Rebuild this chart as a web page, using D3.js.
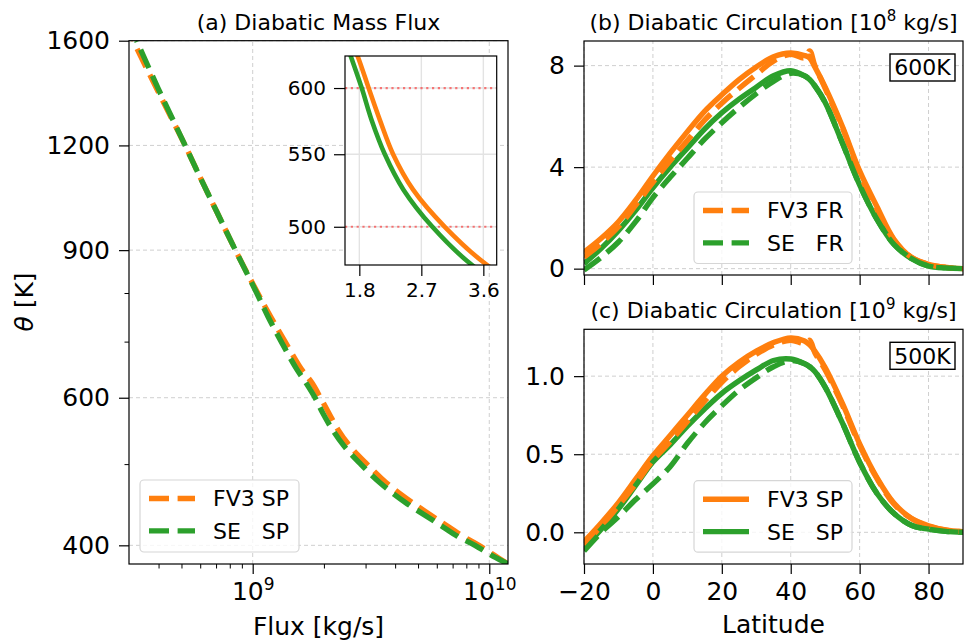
<!DOCTYPE html>
<html>
<head>
<meta charset="utf-8">
<script src="https://cdn.jsdelivr.net/npm/d3@7"></script>
<style>
body { margin: 0; background: #fff; }
text { font-family: "DejaVu Sans", sans-serif; fill: #000; }
</style>
</head>
<body>
<div id="chart"></div>
<script>
// figure size and colours
var svgWidth = 965;
var svgHeight = 643;
var orange = "#ff7f0e";
var green = "#2ca02c";

// (a) mass flux profiles, flux in 1e9 kg/s
var thetaLevels = [380, 390, 400, 410, 425, 450, 475, 500, 525, 550, 575, 600, 625, 650, 700, 750, 800, 900, 1000, 1100, 1200, 1400, 1600];
var fluxFV3 = [12.0, 10.4, 9.04, 7.75, 6.38, 4.72, 3.67, 3.04, 2.58, 2.29, 2.10, 1.935, 1.78, 1.60, 1.37, 1.19, 1.05, 0.845, 0.705, 0.599, 0.518, 0.394, 0.312];
var fluxSE = [12.0, 10.1, 8.7, 7.35, 6.05, 4.42, 3.45, 2.86, 2.44, 2.17, 1.98, 1.835, 1.68, 1.53, 1.32, 1.16, 1.04, 0.845, 0.705, 0.599, 0.518, 0.40, 0.323];

// (b),(c) diabatic circulation vs latitude
var lat = [-20, -15, -10, -5, 0, 5, 10, 15, 20, 25, 30, 35, 40, 44, 45.5, 47, 50, 55, 60, 65, 70, 75, 80, 85, 90];
// 600K, 1e8 kg/s
var c600FV3SP = [0.65, 1.2, 1.85, 2.7, 3.65, 4.55, 5.4, 6.2, 6.85, 7.45, 7.95, 8.35, 8.5, 8.4, 8.3, 7.95, 7.15, 5.6, 3.85, 2.45, 1.15, 0.45, 0.17, 0.05, 0.0];
var c600FV3FR = [0.45, 1.0, 1.65, 2.5, 3.4, 4.25, 5.05, 5.85, 6.52, 7.1, 7.65, 8.18, 8.45, 8.3, 8.58, 8.0, 7.1, 5.55, 3.75, 2.35, 1.12, 0.45, 0.17, 0.05, 0.0];
var c600SESP = [0.2, 0.8, 1.5, 2.3, 3.19, 4.0, 4.75, 5.5, 6.14, 6.68, 7.15, 7.6, 7.8, 7.6, 7.45, 7.2, 6.55, 4.95, 3.3, 1.95, 0.95, 0.4, 0.1, 0.03, 0.0];
var c600SEFR = [-0.05, 0.45, 1.05, 1.85, 2.8, 3.6, 4.35, 5.1, 5.75, 6.35, 6.9, 7.38, 7.7, 7.6, 7.45, 7.2, 6.55, 4.95, 3.3, 1.95, 0.95, 0.4, 0.1, 0.03, 0.0];
// 500K, 1e9 kg/s
var c500FV3SP = [-0.06, 0.06, 0.19, 0.34, 0.49, 0.62, 0.75, 0.88, 1.0, 1.09, 1.16, 1.215, 1.245, 1.225, 1.2, 1.16, 1.055, 0.825, 0.566, 0.35, 0.185, 0.09, 0.042, 0.015, 0.004];
var c500FV3FR = [-0.08, 0.04, 0.17, 0.31, 0.46, 0.58, 0.71, 0.84, 0.96, 1.06, 1.14, 1.2, 1.23, 1.21, 1.23, 1.15, 1.04, 0.815, 0.556, 0.345, 0.18, 0.088, 0.04, 0.013, 0.004];
var c500SESP = [-0.1, 0.02, 0.15, 0.3, 0.45, 0.56, 0.68, 0.79, 0.89, 0.97, 1.04, 1.1, 1.11, 1.08, 1.06, 1.03, 0.93, 0.7, 0.449, 0.25, 0.12, 0.045, 0.02, 0.006, 0.0];
var c500SEFR = [-0.12, 0.0, 0.1, 0.21, 0.31, 0.42, 0.57, 0.7, 0.81, 0.91, 0.99, 1.06, 1.1, 1.08, 1.06, 1.03, 0.93, 0.7, 0.449, 0.25, 0.12, 0.045, 0.02, 0.006, 0.0];

// ticks
var thetaTicks = [400, 600, 900, 1200, 1600];
var thetaMinor = [500, 700, 800];
var fluxTicks = [1e9, 1e10];
var fluxMinor = [4e8, 5e8, 6e8, 7e8, 8e8, 9e8, 2e9, 3e9, 4e9, 5e9, 6e9, 7e9, 8e9, 9e9];
var insetXTicks = [1.8, 2.7, 3.6];
var insetYTicks = [500, 550, 600];
var insetRefLines = [500, 600];
var latTicks = [-20, 0, 20, 40, 60, 80];
var ticks600 = [0, 4, 8];
var ticks500 = [0, 0.5, 1.0];

var svg = d3.select("#chart")
    .append("svg")
    .attr("width", svgWidth)
    .attr("height", svgHeight);

var defs = svg.append("defs");
var clipCount = 0;
function clip(x0, y0, w, h) {
    var id = "clip" + (clipCount++);
    defs.append("clipPath").attr("id", id)
        .append("rect").attr("x", x0).attr("y", y0).attr("width", w).attr("height", h);
    return "url(#" + id + ")";
}

//grid lines, dashed light grey
function grid(g, xs, ys, xVals, yVals, style) {
    var x0 = xs.range()[0], x1 = xs.range()[1];
    var y0 = ys.range()[0], y1 = ys.range()[1];
    xVals.forEach(v => {
        g.append("line").attr("x1", xs(v)).attr("x2", xs(v)).attr("y1", y0).attr("y2", y1)
            .attr("stroke", style.color).attr("stroke-width", style.width).attr("stroke-dasharray", style.dash);
    });
    yVals.forEach(v => {
        g.append("line").attr("y1", ys(v)).attr("y2", ys(v)).attr("x1", x0).attr("x2", x1)
            .attr("stroke", style.color).attr("stroke-width", style.width).attr("stroke-dasharray", style.dash);
    });
}

function styleAxis(a, fontSize) {
    a.select(".domain").remove();
    a.selectAll(".tick line").attr("stroke", "#000").attr("stroke-width", 1.2);
    a.selectAll(".tick text").attr("font-size", fontSize).attr("font-family", "DejaVu Sans").attr("fill", "#000");
}

function frame(g, xs, ys) {
    g.append("rect")
        .attr("x", xs.range()[0]).attr("y", ys.range()[1])
        .attr("width", xs.range()[1] - xs.range()[0])
        .attr("height", ys.range()[0] - ys.range()[1])
        .attr("fill", "none").attr("stroke", "#000").attr("stroke-width", 1.2);
}

function curve(g, xs, ys, xv, yv, color, dashed, width, clipUrl) {
    var pts = xv.map((v, i) => [xs(v), ys(yv[i])]);
    g.append("path")
        .attr("d", d3.line().curve(d3.curveCatmullRom.alpha(0.5))(pts))
        .attr("fill", "none")
        .attr("stroke", color)
        .attr("stroke-width", width)
        .attr("stroke-dasharray", dashed ? "20,8.6" : null)
        .attr("clip-path", clipUrl);
}

function legend(g, x0, y0, w, h, rows, dashed) {
    g.append("rect").attr("x", x0).attr("y", y0).attr("width", w).attr("height", h)
        .attr("rx", 4).attr("fill", "#fff").attr("fill-opacity", 0.8)
        .attr("stroke", "#d6d6d6").attr("stroke-width", 1.2);
    rows.forEach((r, i) => {
        var cy = y0 + 18.5 + i * 32.4;
        g.append("line").attr("x1", x0 + 9).attr("x2", x0 + 55).attr("y1", cy).attr("y2", cy)
            .attr("stroke", r.color).attr("stroke-width", 5.4)
            .attr("stroke-dasharray", dashed ? "20,8.6" : null);
        g.append("text").attr("x", x0 + 73).attr("y", cy).attr("dy", "0.36em")
            .attr("font-size", 22).style("white-space", "pre").text(r.label);
    });
}

// ---------------- (a) Diabatic Mass Flux ----------------
var xA = d3.scaleLog().domain([3e8, 1.2e10]).range([129, 508]);
var yA = d3.scaleLog().domain([380, 1600]).range([564, 40.7]);
var gA = svg.append("g");
var gridStyle = { color: "#cfcfcf", width: 1, dash: "4,3" };
grid(gA, xA, yA, fluxTicks, thetaTicks, gridStyle);

var clipA = clip(129, 40.7, 379, 523.3);
curve(gA, xA, yA, fluxFV3.map(v => v * 1e9), thetaLevels, orange, true, 5.4, clipA);
curve(gA, xA, yA, fluxSE.map(v => v * 1e9), thetaLevels, green, true, 5.4, clipA);

var axA = gA.append("g").attr("transform", "translate(0,564)")
    .call(d3.axisBottom(xA).tickValues(fluxTicks).tickSize(10).tickPadding(8).tickFormat(""));
styleAxis(axA, 25);
axA.selectAll(".tick").append("text")
    .attr("y", 36).attr("text-anchor", "middle").attr("font-size", 25)
    .each(function (d) {
        var t = d3.select(this);
        t.append("tspan").text("10");
        t.append("tspan").attr("font-size", 17).attr("dy", -10).text(Math.round(Math.log10(d)));
    });
var axAm = gA.append("g").attr("transform", "translate(0,564)")
    .call(d3.axisBottom(xA).tickValues(fluxMinor).tickSize(4.5).tickFormat(""));
styleAxis(axAm, 25);
axAm.selectAll(".tick line").attr("stroke-width", 1);

var ayA = gA.append("g").attr("transform", "translate(129,0)")
    .call(d3.axisLeft(yA).tickValues(thetaTicks).tickSize(10).tickPadding(9).tickFormat(d3.format("d")));
styleAxis(ayA, 25);
var ayAm = gA.append("g").attr("transform", "translate(129,0)")
    .call(d3.axisLeft(yA).tickValues(thetaMinor).tickSize(4.5).tickFormat(""));
styleAxis(ayAm, 25);
ayAm.selectAll(".tick line").attr("stroke-width", 1);
frame(gA, xA, yA);

legend(gA, 140, 480, 159, 72, [{ label: "FV3 SP", color: orange }, { label: "SE   SP", color: green }], true);

gA.append("text").attr("x", 318.5).attr("y", 30).attr("text-anchor", "middle").attr("font-size", 22)
    .text("(a) Diabatic Mass Flux");
gA.append("text").attr("x", 318.5).attr("y", 635).attr("text-anchor", "middle").attr("font-size", 25)
    .text("Flux [kg/s]");
var yLab = gA.append("text").attr("transform", "translate(33,302) rotate(-90)")
    .attr("text-anchor", "middle").attr("font-size", 25);
yLab.append("tspan").attr("font-style", "italic").text("θ");
yLab.append("tspan").text(" [K]");

// inset: zoom on 475-625 K, linear flux axis
var xI = d3.scaleLinear().domain([1.592, 3.794]).range([345, 496.7]);
var yI = d3.scaleLog().domain([475.5, 625.8]).range([265, 56]);
var gI = svg.append("g");
gI.append("rect").attr("x", 345).attr("y", 56).attr("width", 151.7).attr("height", 209).attr("fill", "#fff");
grid(gI, xI, yI, insetXTicks, insetYTicks, { color: "#e3e3e3", width: 1.4, dash: null });
insetRefLines.forEach(v => {
    gI.append("line").attr("x1", 345).attr("x2", 496.7).attr("y1", yI(v)).attr("y2", yI(v))
        .attr("stroke", "red").attr("stroke-opacity", 0.5).attr("stroke-width", 2.2)
        .attr("stroke-dasharray", "2.2,3.6");
});
var clipI = clip(345, 56, 151.7, 209);
curve(gI, xI, yI, fluxFV3, thetaLevels, orange, false, 4.6, clipI);
curve(gI, xI, yI, fluxSE, thetaLevels, green, false, 4.6, clipI);
var axI = gI.append("g").attr("transform", "translate(0,265)")
    .call(d3.axisBottom(xI).tickValues(insetXTicks).tickSize(11).tickPadding(7).tickFormat(d3.format(".1f")));
styleAxis(axI, 20);
var ayI = gI.append("g").attr("transform", "translate(345,0)")
    .call(d3.axisLeft(yI).tickValues(insetYTicks).tickSize(11).tickPadding(8).tickFormat(d3.format("d")));
styleAxis(ayI, 20);
frame(gI, xI, yI);

// ---------------- (b) and (c) Diabatic Circulation ----------------
var xR = d3.scaleLinear().domain([-20, 90]).range([584, 963]);

function circPanel(y0, y1, domain, ticks, fmt, series, showX, titleExp, boxLabel, legendRows, legendDashed, legendY) {
    var ys = d3.scaleLinear().domain(domain).range([y1, y0]);
    var g = svg.append("g");
    grid(g, xR, ys, latTicks, ticks, gridStyle);
    var c = clip(584, y0, 379, y1 - y0);
    series.forEach(s => curve(g, xR, ys, lat, s.values, s.color, s.dashed, 5.4, c));

    var ax = g.append("g").attr("transform", "translate(0," + y1 + ")")
        .call(d3.axisBottom(xR).tickValues(latTicks).tickSize(10).tickPadding(8)
            .tickFormat(showX ? (d => d3.format("d")(d).replace("-", "\u2212")) : ""));
    styleAxis(ax, 25);
    var ay = g.append("g").attr("transform", "translate(584,0)")
        .call(d3.axisLeft(ys).tickValues(ticks).tickSize(10).tickPadding(9).tickFormat(fmt));
    styleAxis(ay, 25);
    frame(g, xR, ys);

    legend(g, 694, legendY, 158, 71.5, legendRows, legendDashed);

    // label box
    g.append("rect").attr("x", 890).attr("y", y0 + 13).attr("width", 65).attr("height", 27)
        .attr("fill", "#fff").attr("stroke", "#000").attr("stroke-width", 1.4);
    g.append("text").attr("x", 922.5).attr("y", y0 + 26.5).attr("dy", "0.36em").attr("text-anchor", "middle")
        .attr("font-size", 22).text(boxLabel);

    var t = g.append("text").attr("x", 773.5).attr("y", y0 - 11.5).attr("text-anchor", "middle").attr("font-size", 22);
    t.append("tspan").text("(" + (titleExp === 8 ? "b" : "c") + ") Diabatic Circulation [10");
    t.append("tspan").attr("font-size", 15).attr("dy", -9).text(titleExp);
    t.append("tspan").attr("dy", 9).text(" kg/s]");
    return g;
}

circPanel(41, 275, [-0.25, 8.97], ticks600, d3.format("d"), [
    { values: c600FV3SP, color: orange, dashed: false },
    { values: c600SESP, color: green, dashed: false },
    { values: c600FV3FR, color: orange, dashed: true },
    { values: c600SEFR, color: green, dashed: true }
], false, 8, "600K", [{ label: "FV3 FR", color: orange }, { label: "SE   FR", color: green }], true, 192);

circPanel(329.3, 564, [-0.203, 1.30], ticks500, d3.format(".1f"), [
    { values: c500FV3SP, color: orange, dashed: false },
    { values: c500SESP, color: green, dashed: false },
    { values: c500FV3FR, color: orange, dashed: true },
    { values: c500SEFR, color: green, dashed: true }
], true, 9, "500K", [{ label: "FV3 SP", color: orange }, { label: "SE   SP", color: green }], false, 480.7);

svg.append("text").attr("x", 773.5).attr("y", 633).attr("text-anchor", "middle").attr("font-size", 25)
    .text("Latitude");
</script>
</body>
</html>
